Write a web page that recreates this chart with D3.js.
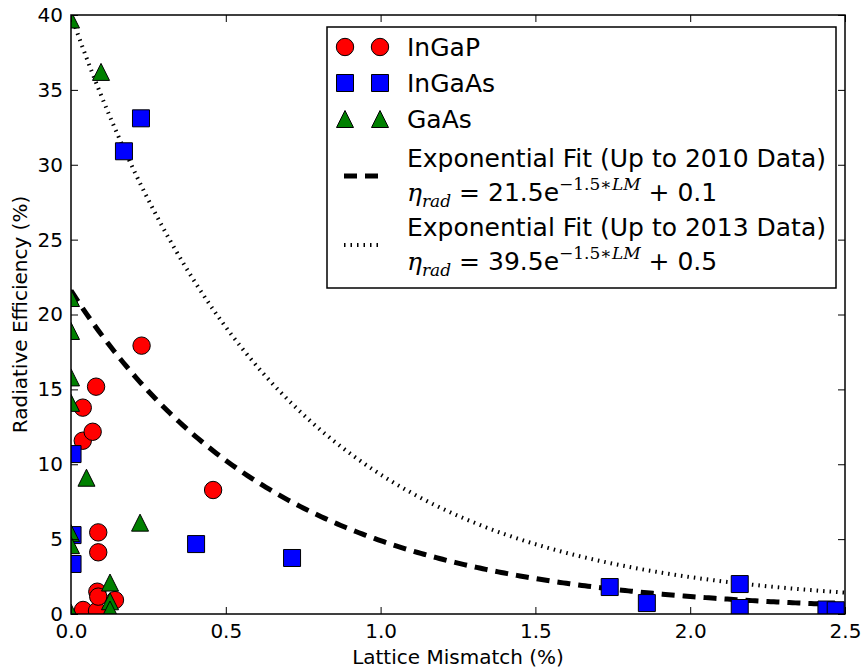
<!DOCTYPE html>
<html>
<head>
<meta charset="utf-8">
<script src="https://cdn.jsdelivr.net/npm/d3@7"></script>
<style>
  body { margin: 0; background: #fff; }
  svg text { font-family: "DejaVu Sans", sans-serif; fill: #000; }
</style>
</head>
<body>
<svg id="chart" width="866" height="672"></svg>
<script>
// lattice mismatch vs radiative efficiency

// InGaP (red circles)
const ingapX = [0.039, 0.084, 0.085, 0.088, 0.142, 0.088, 0.088, 0.038, 0.070, 0.038, 0.081, 0.228, 0.459];
const ingapY = [0.27, 0.2, 1.49, 1.16, 0.93, 4.12, 5.45, 11.57, 12.17, 13.78, 15.18, 17.92, 8.28];

// InGaAs (blue squares)
const ingaasX = [0.226, 0.171, 0.005, 0.005, 0.005, 0.404, 0.714, 1.74, 1.86, 2.16, 2.16, 2.44, 2.47];
const ingaasY = [33.1, 30.9, 10.68, 5.27, 3.34, 4.67, 3.74, 1.8, 0.73, 2.0, 0.4, 0.3, 0.25];

// GaAs (green triangles)
const gaasX = [0.0, 0.097, 0.0, 0.0, 0.0, 0.0, 0.05, 0.0, 0.0, 0.223, 0.126, 0.126, 0.126, 0.0];
const gaasY = [39.7, 36.2, 21.1, 18.9, 15.8, 14.1, 9.1, 5.4, 4.6, 6.1, 2.1, 0.85, 0.3, 0.1];

// fit parameters, as printed in the legend: a*exp(b*LM) + c
const fit2010 = [21.5, -1.5, 0.1];
const fit2013 = [39.5, -1.5, 0.5];

const xTicks = [0, 0.5, 1.0, 1.5, 2.0, 2.5];
const yTicks = [0, 5, 10, 15, 20, 25, 30, 35, 40];

var svg = d3.select('#chart');
var pL = 71, pT = 15, pR = 845, pB = 614;

var x = d3.scaleLinear().domain([0, 2.5]).range([pL, pR]);
var y = d3.scaleLinear().domain([0, 40]).range([pB, pT]);

svg.append('defs').append('clipPath').attr('id', 'plotclip')
	.append('rect')
	.attr('x', pL).attr('y', pT)
	.attr('width', pR - pL).attr('height', pB - pT);

var plot = svg.append('g').attr('clip-path', 'url(#plotclip)');

// fit curves
var xs = d3.range(0, 2.5001, 0.01);
function fitLine(p) {
	return d3.line()
		.x(function(d) { return x(d); })
		.y(function(d) { return y(p[0] * Math.exp(p[1] * d) + p[2]); })(xs);
}

plot.append('path')
	.attr('d', fitLine(fit2013))
	.attr('fill', 'none')
	.attr('stroke', '#000')
	.attr('stroke-width', 4)
	.attr('stroke-dasharray', '1.5,5');

plot.append('path')
	.attr('d', fitLine(fit2010))
	.attr('fill', 'none')
	.attr('stroke', '#000')
	.attr('stroke-width', 5)
	.attr('stroke-dasharray', '13,8');

// markers
var circ = d3.symbol().type(d3.symbolCircle).size(Math.PI * 8.7 * 8.7);
var sq = d3.symbol().type(d3.symbolSquare).size(17 * 17);

function triPath(s) {
	var h = s / 2;
	return 'M0,' + (-h) + 'L' + h + ',' + h + 'L' + (-h) + ',' + h + 'Z';
}

function drawSeries(xv, yv, pathStr, color) {
	plot.append('g')
		.selectAll('path')
		.data(xv.map(function(d, i) { return [d, yv[i]]; }))
		.enter()
		.append('path')
		.attr('d', pathStr)
		.attr('transform', function(d) { return 'translate(' + x(d[0]) + ',' + y(d[1]) + ')'; })
		.attr('fill', color)
		.attr('stroke', '#000')
		.attr('stroke-width', 1);
}

drawSeries(ingapX, ingapY, circ(), '#ff0000');
drawSeries(ingaasX, ingaasY, sq(), '#0000ff');
drawSeries(gaasX, gaasY, triPath(17), '#008000');

// axes with inward ticks on all four sides
var tl = 7;
svg.append('g').attr('transform', 'translate(0,' + pB + ')')
	.call(d3.axisBottom(x).tickValues(xTicks).tickFormat(d3.format('.1f')).tickSizeInner(-tl).tickSizeOuter(0).tickPadding(10))
	.call(function(g) { g.select('.domain').remove(); g.selectAll('text').attr('font-size', 20).attr('font-family', 'DejaVu Sans'); });

svg.append('g').attr('transform', 'translate(0,' + pT + ')')
	.call(d3.axisTop(x).tickValues(xTicks).tickFormat('').tickSizeInner(-tl).tickSizeOuter(0))
	.call(function(g) { g.select('.domain').remove(); });

svg.append('g').attr('transform', 'translate(' + pL + ',0)')
	.call(d3.axisLeft(y).tickValues(yTicks).tickSizeInner(-tl).tickSizeOuter(0).tickPadding(8))
	.call(function(g) { g.select('.domain').remove(); g.selectAll('text').attr('font-size', 20).attr('font-family', 'DejaVu Sans'); });

svg.append('g').attr('transform', 'translate(' + pR + ',0)')
	.call(d3.axisRight(y).tickValues(yTicks).tickFormat('').tickSizeInner(-tl).tickSizeOuter(0))
	.call(function(g) { g.select('.domain').remove(); });

svg.selectAll('.tick line').attr('stroke', '#000').attr('stroke-width', 1);

svg.append('rect')
	.attr('x', pL).attr('y', pT)
	.attr('width', pR - pL).attr('height', pB - pT)
	.attr('fill', 'none').attr('stroke', '#000').attr('stroke-width', 1.5);

// axis labels
svg.append('text')
	.attr('x', (pL + pR) / 2).attr('y', 664)
	.attr('text-anchor', 'middle').attr('font-size', 20)
	.text('Lattice Mismatch (%)');

svg.append('text')
	.attr('transform', 'translate(27,' + (pT + pB) / 2 + ') rotate(-90)')
	.attr('text-anchor', 'middle').attr('font-size', 20)
	.text('Radiative Efficiency (%)');

// legend
var lg = svg.append('g');
lg.append('rect')
	.attr('x', 327).attr('y', 27).attr('width', 509).attr('height', 261)
	.attr('fill', '#fff').attr('stroke', '#000').attr('stroke-width', 1.5);

var m1 = 345, m2 = 380, tx = 407, fs = 25;
var rows = [
	{ label: 'InGaP', yy: 47, mark: circ(), color: '#ff0000' },
	{ label: 'InGaAs', yy: 83, mark: sq(), color: '#0000ff' },
	{ label: 'GaAs', yy: 119, mark: triPath(17), color: '#008000' }
];
rows.forEach(function(r) {
	[m1, m2].forEach(function(mx) {
		lg.append('path').attr('d', r.mark)
			.attr('transform', 'translate(' + mx + ',' + r.yy + ')')
			.attr('fill', r.color).attr('stroke', '#000').attr('stroke-width', 1);
	});
	lg.append('text').attr('x', tx).attr('y', r.yy + 9).attr('font-size', fs).text(r.label);
});

lg.append('line').attr('x1', 344).attr('x2', 382).attr('y1', 176).attr('y2', 176)
	.attr('stroke', '#000').attr('stroke-width', 5).attr('stroke-dasharray', '13,8');
lg.append('line').attr('x1', 344).attr('x2', 382).attr('y1', 245).attr('y2', 245)
	.attr('stroke', '#000').attr('stroke-width', 4).attr('stroke-dasharray', '1.5,5');

function fitLabel(y0, title, a, c) {
	lg.append('text').attr('x', tx).attr('y', y0).attr('font-size', fs).text(title);
	var t = lg.append('text').attr('x', tx).attr('y', y0 + 34).attr('font-size', fs);
	t.append('tspan').attr('font-family', 'DejaVu Serif').attr('font-style', 'italic').text('η');
	t.append('tspan').attr('font-family', 'DejaVu Serif').attr('font-style', 'italic').attr('font-size', 17).attr('dy', 6).text('rad');
	t.append('tspan').attr('dy', -6).text(' = ' + a + 'e');
	t.append('tspan').attr('font-family', 'DejaVu Serif').attr('font-size', 17).attr('dy', -11).text('−1.5∗');
	t.append('tspan').attr('font-family', 'DejaVu Serif').attr('font-style', 'italic').attr('font-size', 17).text('LM');
	t.append('tspan').attr('dy', 11).text(' + ' + c);
}
fitLabel(167, 'Exponential Fit (Up to 2010 Data)', fit2010[0], fit2010[2]);
fitLabel(236, 'Exponential Fit (Up to 2013 Data)', fit2013[0], fit2013[2]);
</script>
</body>
</html>
